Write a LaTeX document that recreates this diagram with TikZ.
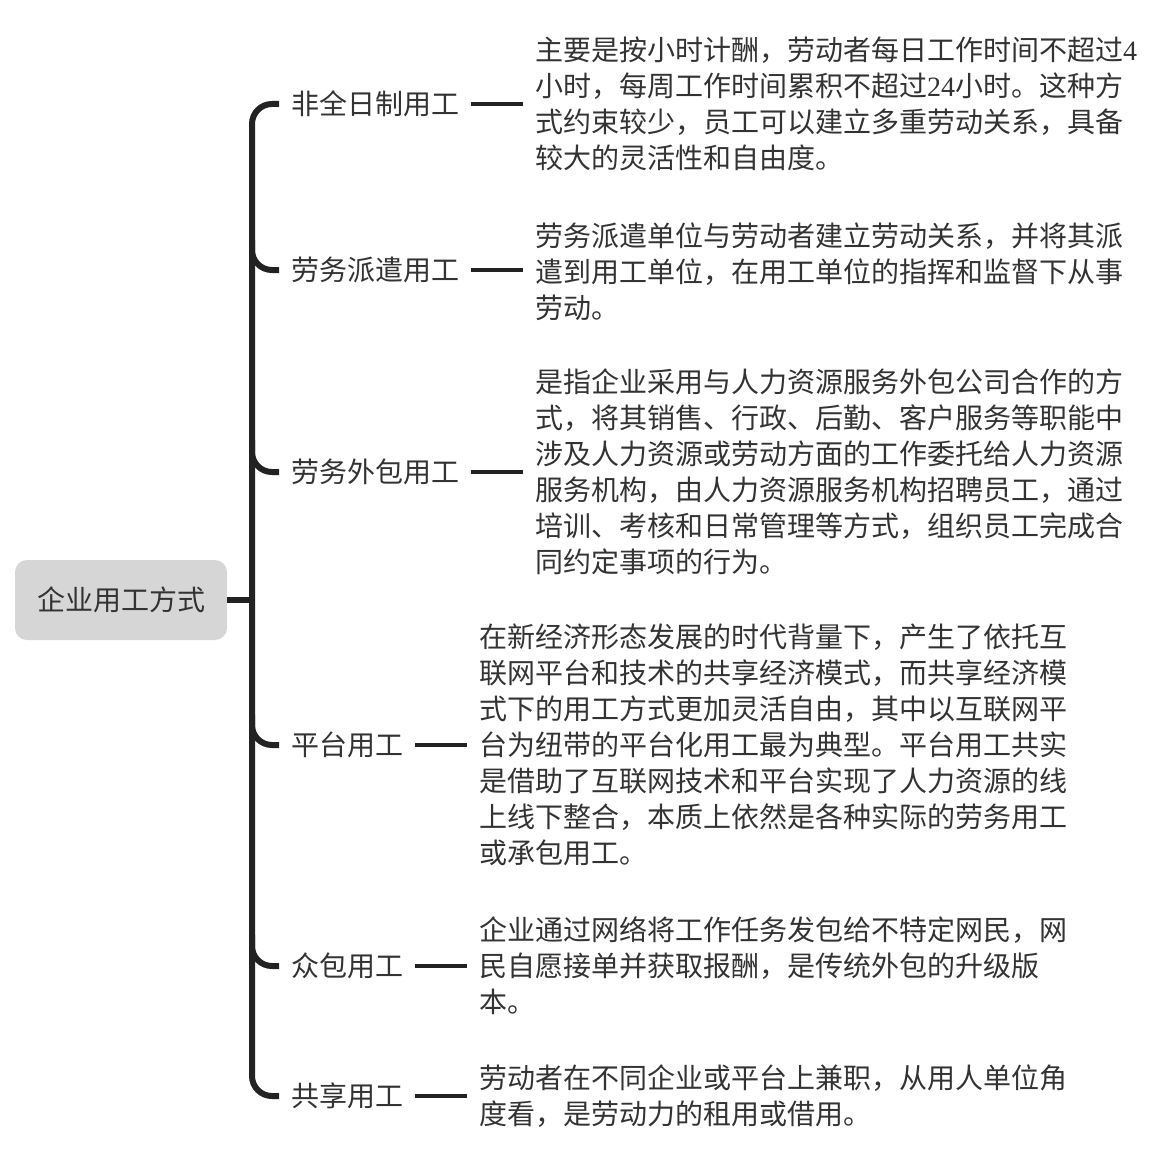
\documentclass[tikz,border=0pt]{standalone}
\usepackage{fontspec}
\setmainfont{Noto Sans CJK SC}
\newfontfamily\numf{Liberation Serif}
\definecolor{linec}{HTML}{222222}
\definecolor{textc}{HTML}{333333}
\definecolor{rootc}{HTML}{D6D6D6}
\begin{document}
\begin{tikzpicture}[x=1pt,y=-1pt,
  every node/.style={text=textc,font=\fontsize{28}{36}\selectfont},
  rootbox/.style={fill=rootc,rounded corners=12pt,minimum width=212pt,minimum height=80pt,inner sep=0pt},
  branchlbl/.style={anchor=west,inner xsep=12pt,inner ysep=0pt},
  desc/.style={anchor=west,align=left,inner xsep=12pt,inner ysep=0pt},
  trunk/.style={draw=linec,line width=6pt,rounded corners=20pt},
  thinline/.style={draw=linec,line width=4pt}]
\useasboundingbox (0,0) rectangle (1166,1174);
\node[rootbox] (root) at (121,600) {企业用工方式};
\coordinate (j) at (252,600);
% branch labels
\node[branchlbl] (b1) at (279,104) {非全日制用工};
\node[branchlbl] (b2) at (279,270) {劳务派遣用工};
\node[branchlbl] (b3) at (279,472) {劳务外包用工};
\node[branchlbl] (b4) at (279,745) {平台用工};
\node[branchlbl] (b5) at (279,966) {众包用工};
\node[branchlbl] (b6) at (279,1096) {共享用工};
% descriptions
\node[desc] (d1) at (523,104) {主要是按小时计酬，劳动者每日工作时间不超过{\numf 4}\\小时，每周工作时间累积不超过{\numf 24}小时。这种方\\式约束较少，员工可以建立多重劳动关系，具备\\较大的灵活性和自由度。};
\node[desc] (d2) at (523,272) {劳务派遣单位与劳动者建立劳动关系，并将其派\\遣到用工单位，在用工单位的指挥和监督下从事\\劳动。};
\node[desc] (d3) at (523,472) {是指企业采用与人力资源服务外包公司合作的方\\式，将其销售、行政、后勤、客户服务等职能中\\涉及人力资源或劳动方面的工作委托给人力资源\\服务机构，由人力资源服务机构招聘员工，通过\\培训、考核和日常管理等方式，组织员工完成合\\同约定事项的行为。};
\node[desc] (d4) at (467,745) {在新经济形态发展的时代背量下，产生了依托互\\联网平台和技术的共享经济模式，而共享经济模\\式下的用工方式更加灵活自由，其中以互联网平\\台为纽带的平台化用工最为典型。平台用工共实\\是借助了互联网技术和平台实现了人力资源的线\\上线下整合，本质上依然是各种实际的劳务用工\\或承包用工。};
\node[desc] (d5) at (467,966) {企业通过网络将工作任务发包给不特定网民，网\\民自愿接单并获取报酬，是传统外包的升级版\\本。};
\node[desc] (d6) at (467,1096) {劳动者在不同企业或平台上兼职，从用人单位角\\度看，是劳动力的租用或借用。};
% connectors
\draw[trunk] (root.east) -- (j);
\draw[trunk] (b1.west) -| (j) |- (b6.west);
\draw[trunk] (252,240) |- (b2.west);
\draw[trunk] (252,440) |- (b3.west);
\draw[trunk] (252,715) |- (b4.west);
\draw[trunk] (252,935) |- (b5.west);
\foreach \i in {1,...,6} {\draw[thinline] (b\i.east) -- (b\i.east -| d\i.west);}
\end{tikzpicture}
\end{document}
